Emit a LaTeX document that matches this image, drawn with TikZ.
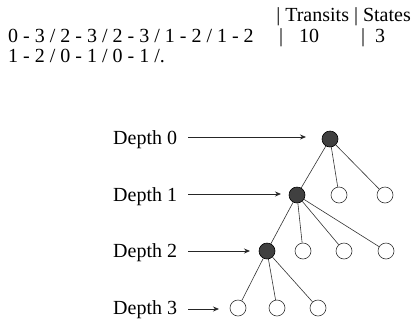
\documentclass[tikz,border=0pt]{standalone}
\usepackage{fontspec}
\setmainfont{Liberation Serif}
\usetikzlibrary{arrows.meta}
\begin{document}
\begin{tikzpicture}[x=1pt,y=-1pt,
  txt/.style={inner sep=0pt,anchor=base west,font=\fontsize{20}{22}\selectfont},
  leaf/.style={circle,draw=black!80,line width=0.6pt,fill=white,minimum size=16pt,inner sep=0pt},
  visited/.style={circle,draw=black,line width=0.6pt,fill=black!75,minimum size=16pt,inner sep=0pt},
  edge/.style={draw=black!80,line width=0.6pt},
  depthline/.style={draw=black!85,line width=0.8pt,-{Stealth[length=6pt,width=5pt]}}]
\useasboundingbox (0,0) rectangle (414,322);

% header and transit string
\node[txt,anchor=base east] (head) at (411,21) {| Transits | States};
\node[txt] (seq1) at (8,42) {0 - 3 / 2 - 3 / 2 - 3 / 1 - 2 / 1 - 2};
\node[txt] (bar3) at (279,42) {|};
\node[txt] (ntrans) at (299,42) {10};
\node[txt] (bar4) at (361,42) {|};
\node[txt] (nstates) at (375,42) {3};
\node[txt] (seq2) at (8,62) {1 - 2 / 0 - 1 / 0 - 1 /.};

% search tree
\node[visited] (r) at (330,139) {};
\node[visited] (a) at (297,195) {};
\node[leaf] (b) at (339,195) {};
\node[leaf] (c) at (385,195) {};
\node[visited] (d) at (267,251) {};
\node[leaf] (e) at (303,251) {};
\node[leaf] (f) at (344,251) {};
\node[leaf] (g) at (386,251) {};
\node[leaf] (h) at (238,308) {};
\node[leaf] (i) at (277,308) {};
\node[leaf] (j) at (318,308) {};

\foreach \p/\q in {r/a,r/b,r/c,a/d,a/e,a/f,a/g,d/h,d/i,d/j}
  \draw[edge] (\p) -- (\q);

% depth labels
\node[txt] (l0) at (113,144) {Depth 0};
\node[txt] (l1) at (113,201) {Depth 1};
\node[txt] (l2) at (113,257) {Depth 2};
\node[txt] (l3) at (113,314) {Depth 3};
\coordinate (s0) at (188,137);
\coordinate (s1) at (188,194);
\coordinate (s2) at (188,251);
\coordinate (s3) at (188,309);
\coordinate (t0) at (306,137);
\coordinate (t1) at (281,194);
\coordinate (t2) at (250,251);
\coordinate (t3) at (219,309);
\draw[depthline] (s0) -- (t0);
\draw[depthline] (s1) -- (t1);
\draw[depthline] (s2) -- (t2);
\draw[depthline] (s3) -- (t3);
\end{tikzpicture}
\end{document}
